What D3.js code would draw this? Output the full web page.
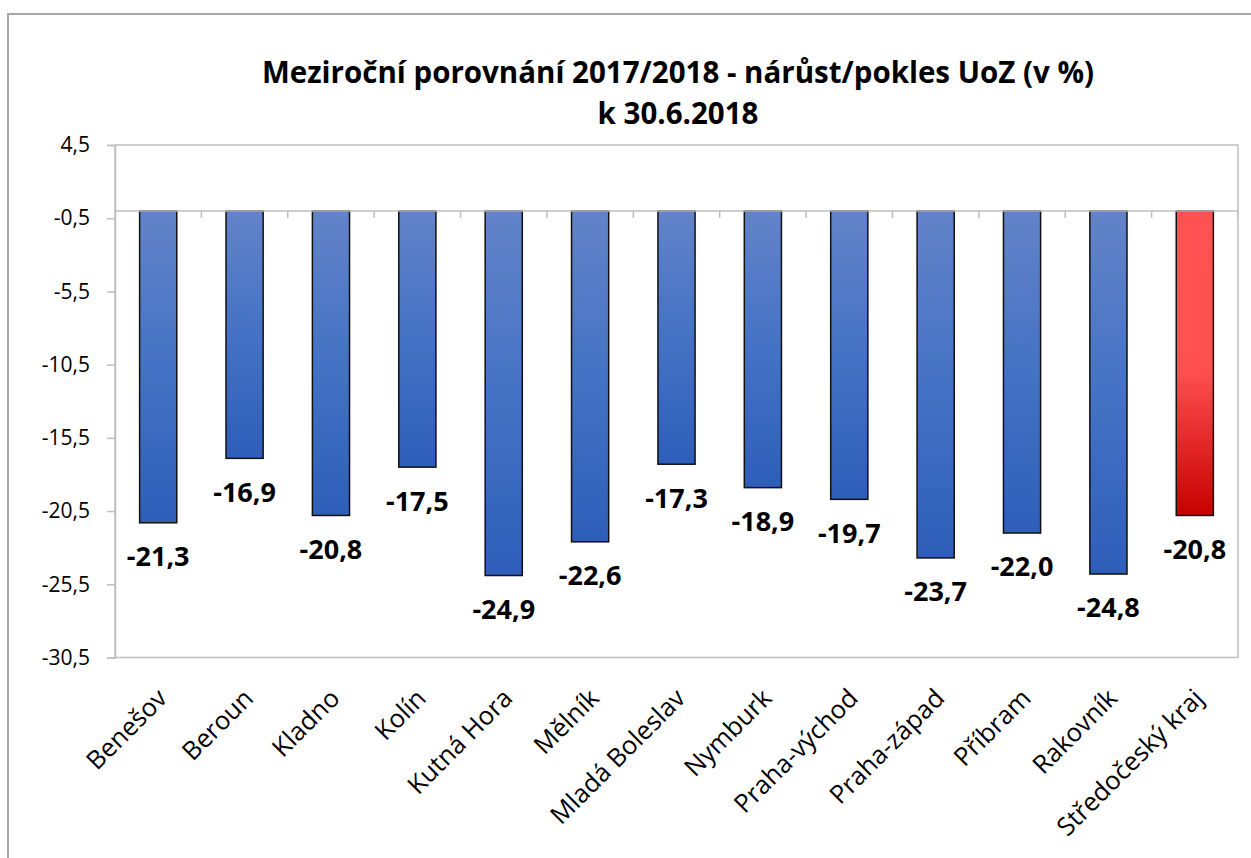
<!DOCTYPE html>
<html><head><meta charset="utf-8">
<script src="https://cdn.jsdelivr.net/npm/d3@7"></script>
<style>body{margin:0;background:#fff;}svg{display:block;}</style>
</head><body>
<svg id="c" width="1251" height="858"></svg>
<script>
const categories = ["Benešov","Beroun","Kladno","Kolín","Kutná Hora","Mělník","Mladá Boleslav","Nymburk","Praha-východ","Praha-západ","Příbram","Rakovník","Středočeský kraj"];
const values = [-21.3,-16.9,-20.8,-17.5,-24.9,-22.6,-17.3,-18.9,-19.7,-23.7,-22.0,-24.8,-20.8];
const highlight = ["Středočeský kraj"];
const yTicks = [4.5,-0.5,-5.5,-10.5,-15.5,-20.5,-25.5,-30.5];
const titleLines = ["Meziroční porovnání 2017/2018 - nárůst/pokles UoZ (v %)","k 30.6.2018"];

const svg = d3.select("#c");
const L=115, R=1238, T=145, B=657.5;
const font = "'Open Sans', 'Noto Sans', sans-serif";
const fmt = d => d3.format(".1f")(d).replace(".",",").replace("\u2212","-");

// outer chart border
svg.append("path").attr("d","M8,870V14H1260").attr("fill","none").attr("stroke","#a6a6a6").attr("stroke-width",2);

const defs = svg.append("defs");
const gb = defs.append("linearGradient").attr("id","gb").attr("x1",0).attr("y1",0).attr("x2",0).attr("y2",1);
gb.append("stop").attr("offset","0%").attr("stop-color","#6383c9");
gb.append("stop").attr("offset","50%").attr("stop-color","#4472c4");
gb.append("stop").attr("offset","100%").attr("stop-color","#2f5eb9");
const gr = defs.append("linearGradient").attr("id","gr").attr("x1",0).attr("y1",0).attr("x2",0).attr("y2",1);
gr.append("stop").attr("offset","0%").attr("stop-color","#ff5151");
gr.append("stop").attr("offset","52%").attr("stop-color","#ff5050");
gr.append("stop").attr("offset","100%").attr("stop-color","#c80000");

const x = d3.scaleBand().domain(categories).range([L,R]).paddingInner(0.57).paddingOuter(0.285);
const y = d3.scaleLinear().domain([-30.5,4.5]).range([B,T]);

// plot border
svg.append("rect").attr("x",L).attr("y",T).attr("width",R-L).attr("height",B-T)
  .attr("fill","none").attr("stroke","#bfbfbf").attr("stroke-width",1.5);

// y axis
const yAxis = svg.append("g").attr("transform",`translate(${L},0)`)
  .call(d3.axisLeft(y).tickValues(yTicks).tickSize(8).tickPadding(17).tickFormat(fmt));
yAxis.select(".domain").attr("stroke","#bfbfbf").attr("stroke-width",1.5);
yAxis.selectAll(".tick line").attr("stroke","#bfbfbf").attr("stroke-width",1.5);
yAxis.selectAll(".tick text").attr("font-family",font).attr("font-size",21).attr("fill","#000");

// bars
svg.append("g").selectAll("rect").data(values).join("rect")
  .attr("x",(d,i)=>x(categories[i]))
  .attr("y",y(0))
  .attr("width",x.bandwidth())
  .attr("height",d=>y(d)-y(0))
  .attr("fill",(d,i)=>highlight.includes(categories[i])?"url(#gr)":"url(#gb)")
  .attr("stroke","#111").attr("stroke-width",1.5);

// category axis at 0
const xAxisG = svg.append("g");
xAxisG.append("line").attr("x1",L).attr("x2",R).attr("y1",y(0)).attr("y2",y(0)).attr("stroke","#bfbfbf").attr("stroke-width",1.5);
xAxisG.selectAll("line.t").data(d3.range(1,categories.length+1)).join("line").attr("class","t")
  .attr("x1",i=>L+i*(R-L)/categories.length).attr("x2",i=>L+i*(R-L)/categories.length)
  .attr("y1",y(0)).attr("y2",y(0)+7).attr("stroke","#bfbfbf").attr("stroke-width",1.5);

// data labels
svg.append("g").selectAll("text").data(values).join("text")
  .attr("x",(d,i)=>x(categories[i])+x.bandwidth()/2)
  .attr("y",d=>y(d)+34)
  .attr("dy","0.35em")
  .attr("text-anchor","middle")
  .attr("font-family",font).attr("font-weight","bold").attr("font-size",27)
  .text(fmt);

// category labels
svg.append("g").selectAll("text").data(categories).join("text")
  .attr("transform",d=>`translate(${x(d)+x.bandwidth()/2+4},${B+36}) rotate(-45)`)
  .attr("text-anchor","end").attr("dy","0.35em")
  .attr("font-family",font).attr("font-size",25.5)
  .text(d=>d);

// title
svg.append("g").selectAll("text").data(titleLines).join("text")
  .attr("x",678).attr("y",(d,i)=>83+i*41)
  .attr("text-anchor","middle")
  .attr("font-family",font).attr("font-weight","bold").attr("font-size",29.5)
  .text(d=>d);
</script>
</body></html>
